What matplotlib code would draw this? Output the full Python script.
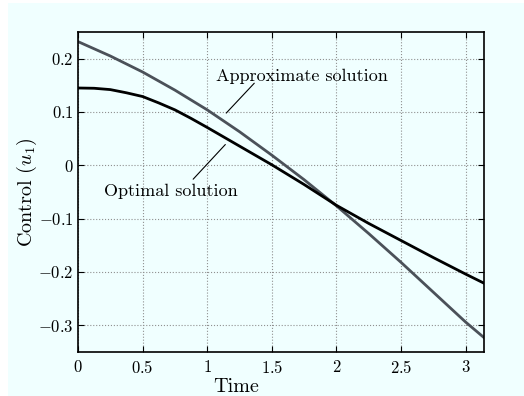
import matplotlib
matplotlib.use('Agg')
import matplotlib.pyplot as plt
from matplotlib.patches import Rectangle
import numpy as np

plt.rcParams['font.family'] = 'serif'
plt.rcParams['font.serif'] = ['cmr10']
plt.rcParams['mathtext.fontset'] = 'cm'
plt.rcParams['axes.unicode_minus'] = True

# values
t_approx = [0, 0.25, 0.5, 0.75, 1.0, 1.25, 1.5, 1.75, 2.0, 2.25, 2.5, 2.75, 3.0, np.pi]
u_approx = [0.232, 0.205, 0.175, 0.141, 0.104, 0.063, 0.019, -0.027, -0.076,
            -0.128, -0.182, -0.238, -0.294, -0.323]

t_opt = [0, 0.125, 0.25, 0.375, 0.5, 0.625, 0.75, 0.875, 1.0, 1.25, 1.5, 1.75,
         2.0, 2.25, 2.5, 2.75, 3.0, np.pi]
u_opt = [0.145, 0.1445, 0.142, 0.136, 0.129, 0.117, 0.104, 0.088, 0.071, 0.036,
         0.001, -0.036, -0.075, -0.109, -0.141, -0.173, -0.204, -0.221]

xticks = [0, 0.5, 1, 1.5, 2, 2.5, 3]
xlabels = ['$0$', '$0.5$', '$1$', '$1.5$', '$2$', '$2.5$', '$3$']
yticks = [-0.3, -0.2, -0.1, 0, 0.1, 0.2]
ylabels = ['$-0.3$', '$-0.2$', '$-0.1$', '$0$', '$0.1$', '$0.2$']

bg = '#f0ffff'
fig = plt.figure(figsize=(5.24, 3.96), dpi=100, facecolor='white')
fig.patches.append(Rectangle((8 / 524, 0), 1, 1 - 3 / 396, transform=fig.transFigure,
                             facecolor=bg, edgecolor='none', zorder=-10))
ax = fig.add_axes([78 / 524, 44 / 396, 406 / 524, 320 / 396])
ax.set_facecolor(bg)

ax.plot(t_approx, u_approx, color='#4b5159', lw=2.0)
ax.plot(t_opt, u_opt, color='black', lw=2.0)

ax.set_xlim(0, np.pi)
ax.set_ylim(-0.35, 0.25)
ax.set_xticks(xticks)
ax.set_xticklabels(xlabels)
ax.set_yticks(yticks)
ax.set_yticklabels(ylabels)
ax.tick_params(direction='in', top=True, right=True, length=4, width=0.8,
               labelsize=12)
ax.tick_params(axis='y', pad=3)
ax.tick_params(axis='x', pad=5)
ax.grid(True, linestyle=':', color='#909090', linewidth=0.8)
for s in ax.spines.values():
    s.set_linewidth(1.2)

ax.set_xlabel('Time', fontsize=14.5)
ax.xaxis.set_label_coords(0.389, -0.082)
ax.set_ylabel('Control ($u_1$)', fontsize=14.5)
ax.yaxis.set_label_coords(-0.096, 0.5)

# labels and leader lines
ax.text(1.067, 0.159, 'Approximate solution', fontsize=13, ha='left', va='baseline')
ax.annotate('', xy=(1.147, 0.098), xytext=(1.364, 0.154),
            arrowprops=dict(arrowstyle='-', color='black', lw=0.8, shrinkA=0, shrinkB=0))
ax.text(0.20, -0.058, 'Optimal solution', fontsize=13, ha='left', va='baseline')
ax.annotate('', xy=(1.140, 0.039), xytext=(0.891, -0.026),
            arrowprops=dict(arrowstyle='-', color='black', lw=0.8, shrinkA=0, shrinkB=0))

fig.savefig('out.png', dpi=100, facecolor=fig.get_facecolor())
